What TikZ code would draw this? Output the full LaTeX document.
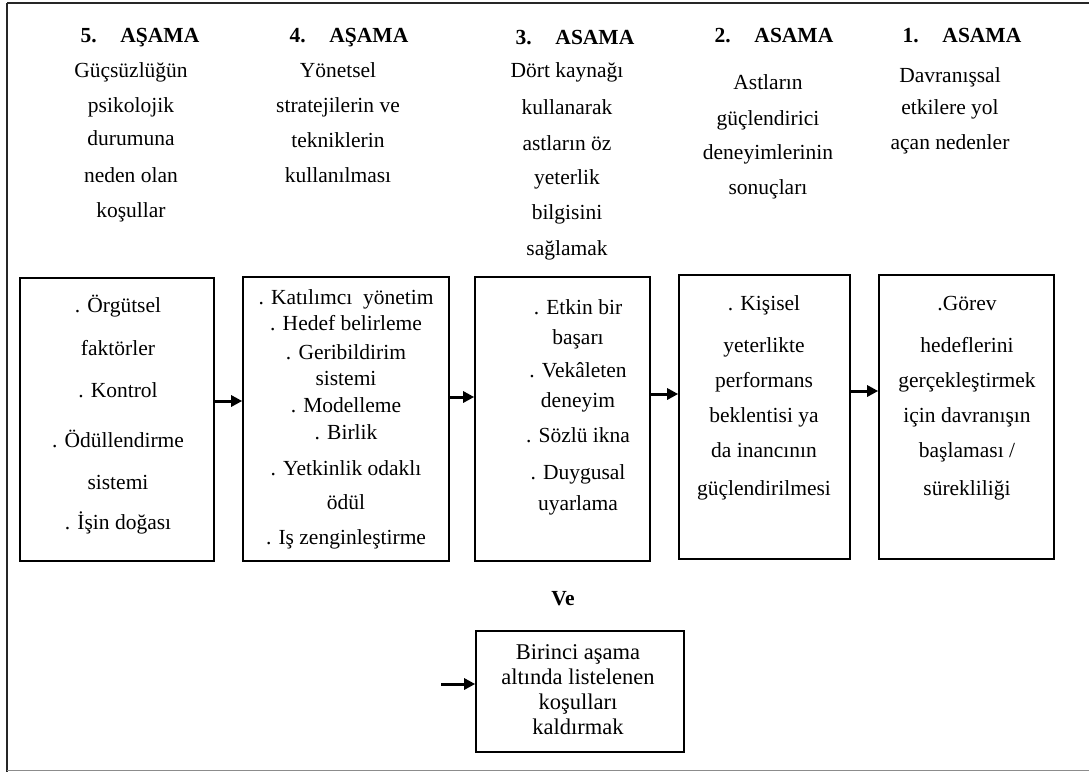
\documentclass[tikz,border=0pt]{standalone}
\usepackage{fontspec}
\setmainfont{Liberation Serif}
\usetikzlibrary{arrows.meta}
\begin{document}
\begin{tikzpicture}[x=1pt,y=-1pt,
  box/.style={draw=black, line width=1.6pt, inner sep=0pt},
  txt/.style={anchor=base, inner sep=0pt, font=\fontsize{21.5}{25}\selectfont},
  small/.style={anchor=base, inner sep=0pt, font=\fontsize{22.5}{25}\selectfont},
  hdr/.style={anchor=base, inner sep=0pt, font=\bfseries\fontsize{21.5}{25}\selectfont},
  arr/.style={-{Triangle[length=11pt,width=11pt]}, line width=3pt}]
\useasboundingbox (0,0) rectangle (1089,772);

% outer frame (open on the right)
\draw[line width=2pt, black!85] (7,3) -- (1089,3);
\draw[line width=2pt, black!85] (7,3) -- (7,772);
\draw[line width=1.5pt, black!45] (7,770.5) -- (1089,770.5);

% stage headings
\node[hdr] (t5) at (140,42) {5.\hspace{1.1em}AŞAMA};
\node[hdr] (t4) at (349,42) {4.\hspace{1.1em}AŞAMA};
\node[hdr] (t3) at (575,44) {3.\hspace{1.1em}ASAMA};
\node[hdr] (t2) at (774,42) {2.\hspace{1.1em}ASAMA};
\node[hdr] (t1) at (962,42) {1.\hspace{1.1em}ASAMA};

\foreach \n/\y/\t in {1/77/Güçsüzlüğün, 2/112/psikolojik, 3/145/durumuna, 4/182/neden olan, 5/217/koşullar}
  \node[txt] (h5-\n) at (131,\y) {\t};
\foreach \n/\y/\t in {1/77/Yönetsel, 2/112/stratejilerin\ ve, 3/147/tekniklerin, 4/182/kullanılması}
  \node[txt] (h4-\n) at (338,\y) {\t};
\foreach \n/\y/\t in {1/77/Dört kaynağı, 2/114/kullanarak, 3/150/astların\ öz, 4/184/yeterlik, 5/219/bilgisini, 6/255/sağlamak}
  \node[txt] (h3-\n) at (567,\y) {\t};
\foreach \n/\y/\t in {1/89/Astların, 2/125/güçlendirici, 3/159/deneyimlerinin, 4/194/sonuçları}
  \node[txt] (h2-\n) at (768,\y) {\t};
\foreach \n/\y/\t in {1/82/Davranışsal, 2/114/etkilere yol, 3/149/açan nedenler}
  \node[txt] (h1-\n) at (950,\y) {\t};

% stage boxes
\node[box, minimum width=194pt, minimum height=283pt] (b5) at (117,419.5) {};
\node[box, minimum width=206pt, minimum height=284pt] (b4) at (346,419) {};
\node[box, minimum width=175pt, minimum height=284pt] (b3) at (562.5,419) {};
\node[box, minimum width=171pt, minimum height=284pt] (b2) at (764.5,417) {};
\node[box, minimum width=175pt, minimum height=284pt] (b1) at (966.5,417) {};
\node[box, minimum width=208pt, minimum height=121pt] (bb) at (580,691.5) {};

% box contents
\foreach \n/\y/\t in {1/312/. Örgütsel, 2/355/faktörler, 3/397/. Kontrol, 4/447/. Ödüllendirme, 5/489/sistemi, 6/529/. İşin doğası}
  \node[txt] (c5-\n) at (118,\y) {\t};
\foreach \n/\y/\t in {1/304/. Katılımcı\ \ yönetim, 2/330/. Hedef belirleme, 3/359/. Geribildirim, 4/385/sistemi, 5/412/. Modelleme, 6/439/. Birlik, 7/475/. Yetkinlik odaklı, 8/509/ödül, 9/544/. Iş zenginleştirme}
  \node[txt] (c4-\n) at (346,\y) {\t};
\foreach \n/\y/\t in {1/314/. Etkin bir, 2/344/başarı, 3/377/. Vekâleten, 4/407/deneyim, 5/442/. Sözlü ikna, 6/479/. Duygusal, 7/510/uyarlama}
  \node[txt] (c3-\n) at (578,\y) {\t};
\foreach \n/\y/\t in {1/310/. Kişisel, 2/352/yeterlikte, 3/387/performans, 4/422/beklentisi ya, 5/457/da inancının, 6/495/güçlendirilmesi}
  \node[txt] (c2-\n) at (764,\y) {\t};
\foreach \n/\y/\t in {1/310/.Görev, 2/352/hedeflerini, 3/387/gerçekleştirmek, 4/422/için davranışın, 5/457/{başlaması /}, 6/495/sürekliliği}
  \node[txt] (c1-\n) at (967,\y) {\t};

\node[hdr] (ve) at (563,605) {Ve};
\foreach \n/\y/\t in {1/659/Birinci aşama, 2/684/altında\ listelenen, 3/709/koşulları, 4/734/kaldırmak}
  \node[small] (cb-\n) at (578,\y) {\t};

% connectors
\draw[arr] (b5.east |- 0,401) -- (b4.west |- 0,401);
\draw[arr] (b4.east |- 0,397) -- (b3.west |- 0,397);
\draw[arr] (b3.east |- 0,394) -- (b2.west |- 0,394);
\draw[arr] (b2.east |- 0,391) -- (b1.west |- 0,391);
\coordinate (in) at (441,684);
\draw[arr] (in) -- (bb.west |- in);
\end{tikzpicture}
\end{document}
